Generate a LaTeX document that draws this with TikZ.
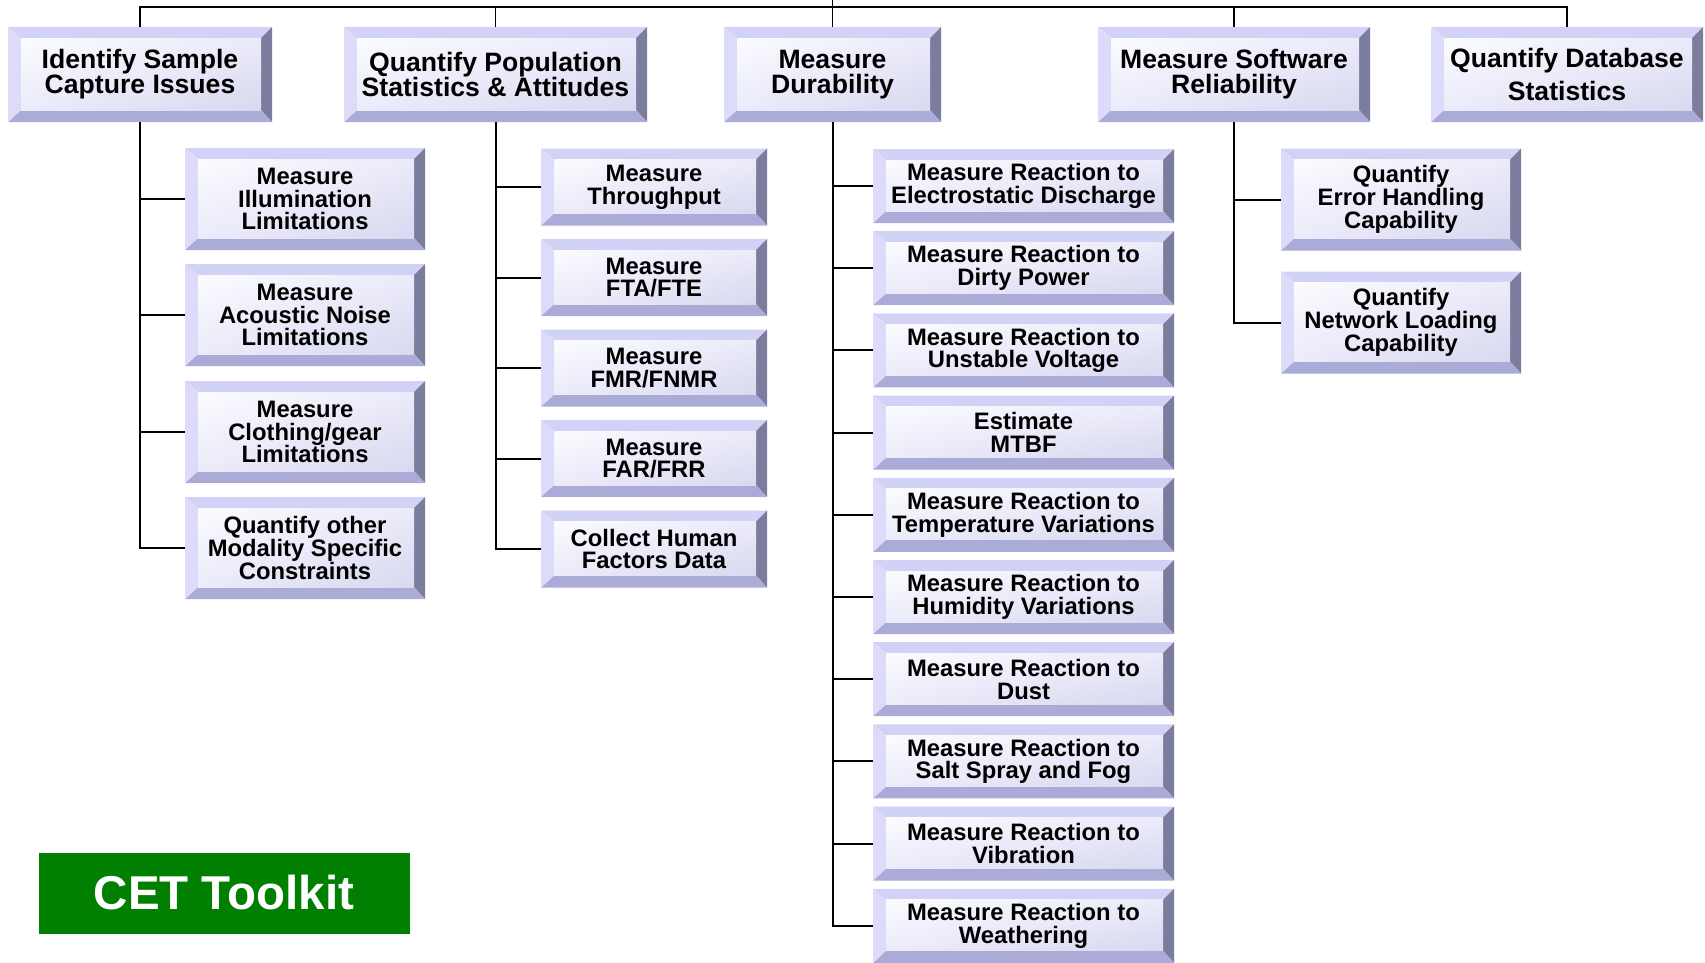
\documentclass[tikz,border=0pt]{standalone}
\usepackage{fontspec}
\setmainfont{Liberation Sans}
\usetikzlibrary{shadings}
\definecolor{bvtop}{HTML}{D2D2F6}
\definecolor{bvleft}{HTML}{DCDCFA}
\definecolor{bvright}{HTML}{7C7C9E}
\definecolor{bvbot}{HTML}{ABABD8}
\definecolor{faceA}{HTML}{FBFBFF}
\definecolor{faceB}{HTML}{EBEBFA}
\definecolor{faceC}{HTML}{D8D8F0}
\definecolor{cetgreen}{HTML}{007F00}
\def\bvL{13pt}
\def\bvT{11pt}
\def\bvR{11pt}
\def\bvB{12pt}
\tikzset{
 bev/.style={rectangle, inner sep=0pt, align=center, text=black,
   path picture={
     \coordinate (pA) at (path picture bounding box.north west);
     \coordinate (pB) at (path picture bounding box.north east);
     \coordinate (pC) at (path picture bounding box.south east);
     \coordinate (pD) at (path picture bounding box.south west);
     \coordinate (qA) at ([xshift=\bvL,yshift=-\bvT]pA);
     \coordinate (qB) at ([xshift=-\bvR,yshift=-\bvT]pB);
     \coordinate (qC) at ([xshift=-\bvR,yshift=\bvB]pC);
     \coordinate (qD) at ([xshift=\bvL,yshift=\bvB]pD);
     \fill[bvtop] (pA) -- (pB) -- (qB) -- (qA) -- cycle;
     \fill[bvright] (pB) -- (pC) -- (qC) -- (qB) -- cycle;
     \fill[bvbot] (pC) -- (pD) -- (qD) -- (qC) -- cycle;
     \fill[bvleft] (pD) -- (pA) -- (qA) -- (qD) -- cycle;
     \shade[upper left=faceA, upper right=faceB, lower left=faceB, lower right=faceC] (qA) rectangle (qC);
   }},
 topbox/.style={bev, font=\bfseries\fontsize{26.6}{25}\selectfont},
 kidbox/.style={bev, font=\bfseries\fontsize{23.8}{22.8}\selectfont},
 link/.style={line width=2pt, black},
 buslink/.style={line width=1.7pt, black},
}
\begin{document}
\begin{tikzpicture}[x=1pt,y=-1pt]
\useasboundingbox (0,0) rectangle (1705,962);
% top level
\node[topbox, minimum width=264pt, minimum height=95pt] (b1) at (140,74.5) {Identify Sample\\Capture Issues};
\node[topbox, minimum width=303pt, minimum height=95pt] (b2) at (495.5,74.5) {Quantify Population\\Statistics \& Attitudes};
\node[topbox, minimum width=217pt, minimum height=95pt] (b3) at (832.5,74.5) {Measure\\Durability};
\node[topbox, minimum width=272pt, minimum height=95pt] (b4) at (1234,74.5) {Measure Software\\Reliability};
\node[topbox, minimum width=272pt, minimum height=95pt, font=\bfseries\fontsize{26.6}{32.6}\selectfont] (b5) at (1567,74.5) {Quantify Database\\Statistics};
% column 1
\node[kidbox, minimum width=240pt, minimum height=102pt] (c11) at (305,199) {Measure\\Illumination\\Limitations};
\node[kidbox, minimum width=240pt, minimum height=102pt] (c12) at (305,315) {Measure\\Acoustic Noise\\Limitations};
\node[kidbox, minimum width=240pt, minimum height=102pt] (c13) at (305,432) {Measure\\Clothing/gear\\Limitations};
\node[kidbox, minimum width=240pt, minimum height=102pt] (c14) at (305,548) {Quantify other\\Modality Specific\\Constraints};
% column 2
\node[kidbox, minimum width=226pt, minimum height=77pt] (c21) at (654,187) {Measure\\Throughput};
\node[kidbox, minimum width=226pt, minimum height=77pt] (c22) at (654,277.5) {Measure\\FTA/FTE};
\node[kidbox, minimum width=226pt, minimum height=77pt] (c23) at (654,368) {Measure\\FMR/FNMR};
\node[kidbox, minimum width=226pt, minimum height=77pt] (c24) at (654,458.5) {Measure\\FAR/FRR};
\node[kidbox, minimum width=226pt, minimum height=77pt] (c25) at (654,549) {Collect Human\\Factors Data};
% column 3
\node[kidbox, minimum width=301pt, minimum height=74pt] (c31) at (1023.5,186) {Measure Reaction to\\Electrostatic Discharge};
\node[kidbox, minimum width=301pt, minimum height=74pt] (c32) at (1023.5,268.2) {Measure Reaction to\\Dirty Power};
\node[kidbox, minimum width=301pt, minimum height=74pt] (c33) at (1023.5,350.4) {Measure Reaction to\\Unstable Voltage};
\node[kidbox, minimum width=301pt, minimum height=74pt] (c34) at (1023.5,432.6) {Estimate\\MTBF};
\node[kidbox, minimum width=301pt, minimum height=74pt] (c35) at (1023.5,514.8) {Measure Reaction to\\Temperature Variations};
\node[kidbox, minimum width=301pt, minimum height=74pt] (c36) at (1023.5,597) {Measure Reaction to\\Humidity Variations};
\node[kidbox, minimum width=301pt, minimum height=74pt] (c37) at (1023.5,679.2) {Measure Reaction to\\Dust};
\node[kidbox, minimum width=301pt, minimum height=74pt] (c38) at (1023.5,761.4) {Measure Reaction to\\Salt Spray and Fog};
\node[kidbox, minimum width=301pt, minimum height=74pt] (c39) at (1023.5,843.6) {Measure Reaction to\\Vibration};
\node[kidbox, minimum width=301pt, minimum height=74pt] (c310) at (1023.5,925.8) {Measure Reaction to\\Weathering};
% column 4
\node[kidbox, minimum width=240pt, minimum height=102pt] (c41) at (1401,199.5) {Quantify\\Error Handling\\Capability};
\node[kidbox, minimum width=240pt, minimum height=102pt] (c42) at (1401,322.5) {Quantify\\Network Loading\\Capability};
% CET label
\node[fill=cetgreen, draw=green!50!black, line width=0.8pt, minimum width=370pt, minimum height=80pt, inner sep=0pt, text=white, font=\bfseries\fontsize{47.5}{50}\selectfont] (cet) at (224,893) {CET Toolkit};
% top bus
\coordinate (root) at (832.5,0);
\coordinate (bus) at (832.5,7);
\draw[buslink] (root) -- (b3.north);
\draw[buslink] (b1.north) |- (bus) -| (b5.north);
\draw[buslink] (b2.north) |- (bus);
\draw[buslink] (b4.north) |- (bus);
% tree links
\foreach \c in {c11,c12,c13,c14} \draw[link] (b1.south) |- (\c.west);
\foreach \c in {c21,c22,c23,c24,c25} \draw[link] (b2.south) |- (\c.west);
\foreach \c in {c31,c32,c33,c34,c35,c36,c37,c38,c39,c310} \draw[link] (b3.south) |- (\c.west);
\foreach \c in {c41,c42} \draw[link] (b4.south) |- (\c.west);
\end{tikzpicture}
\end{document}
